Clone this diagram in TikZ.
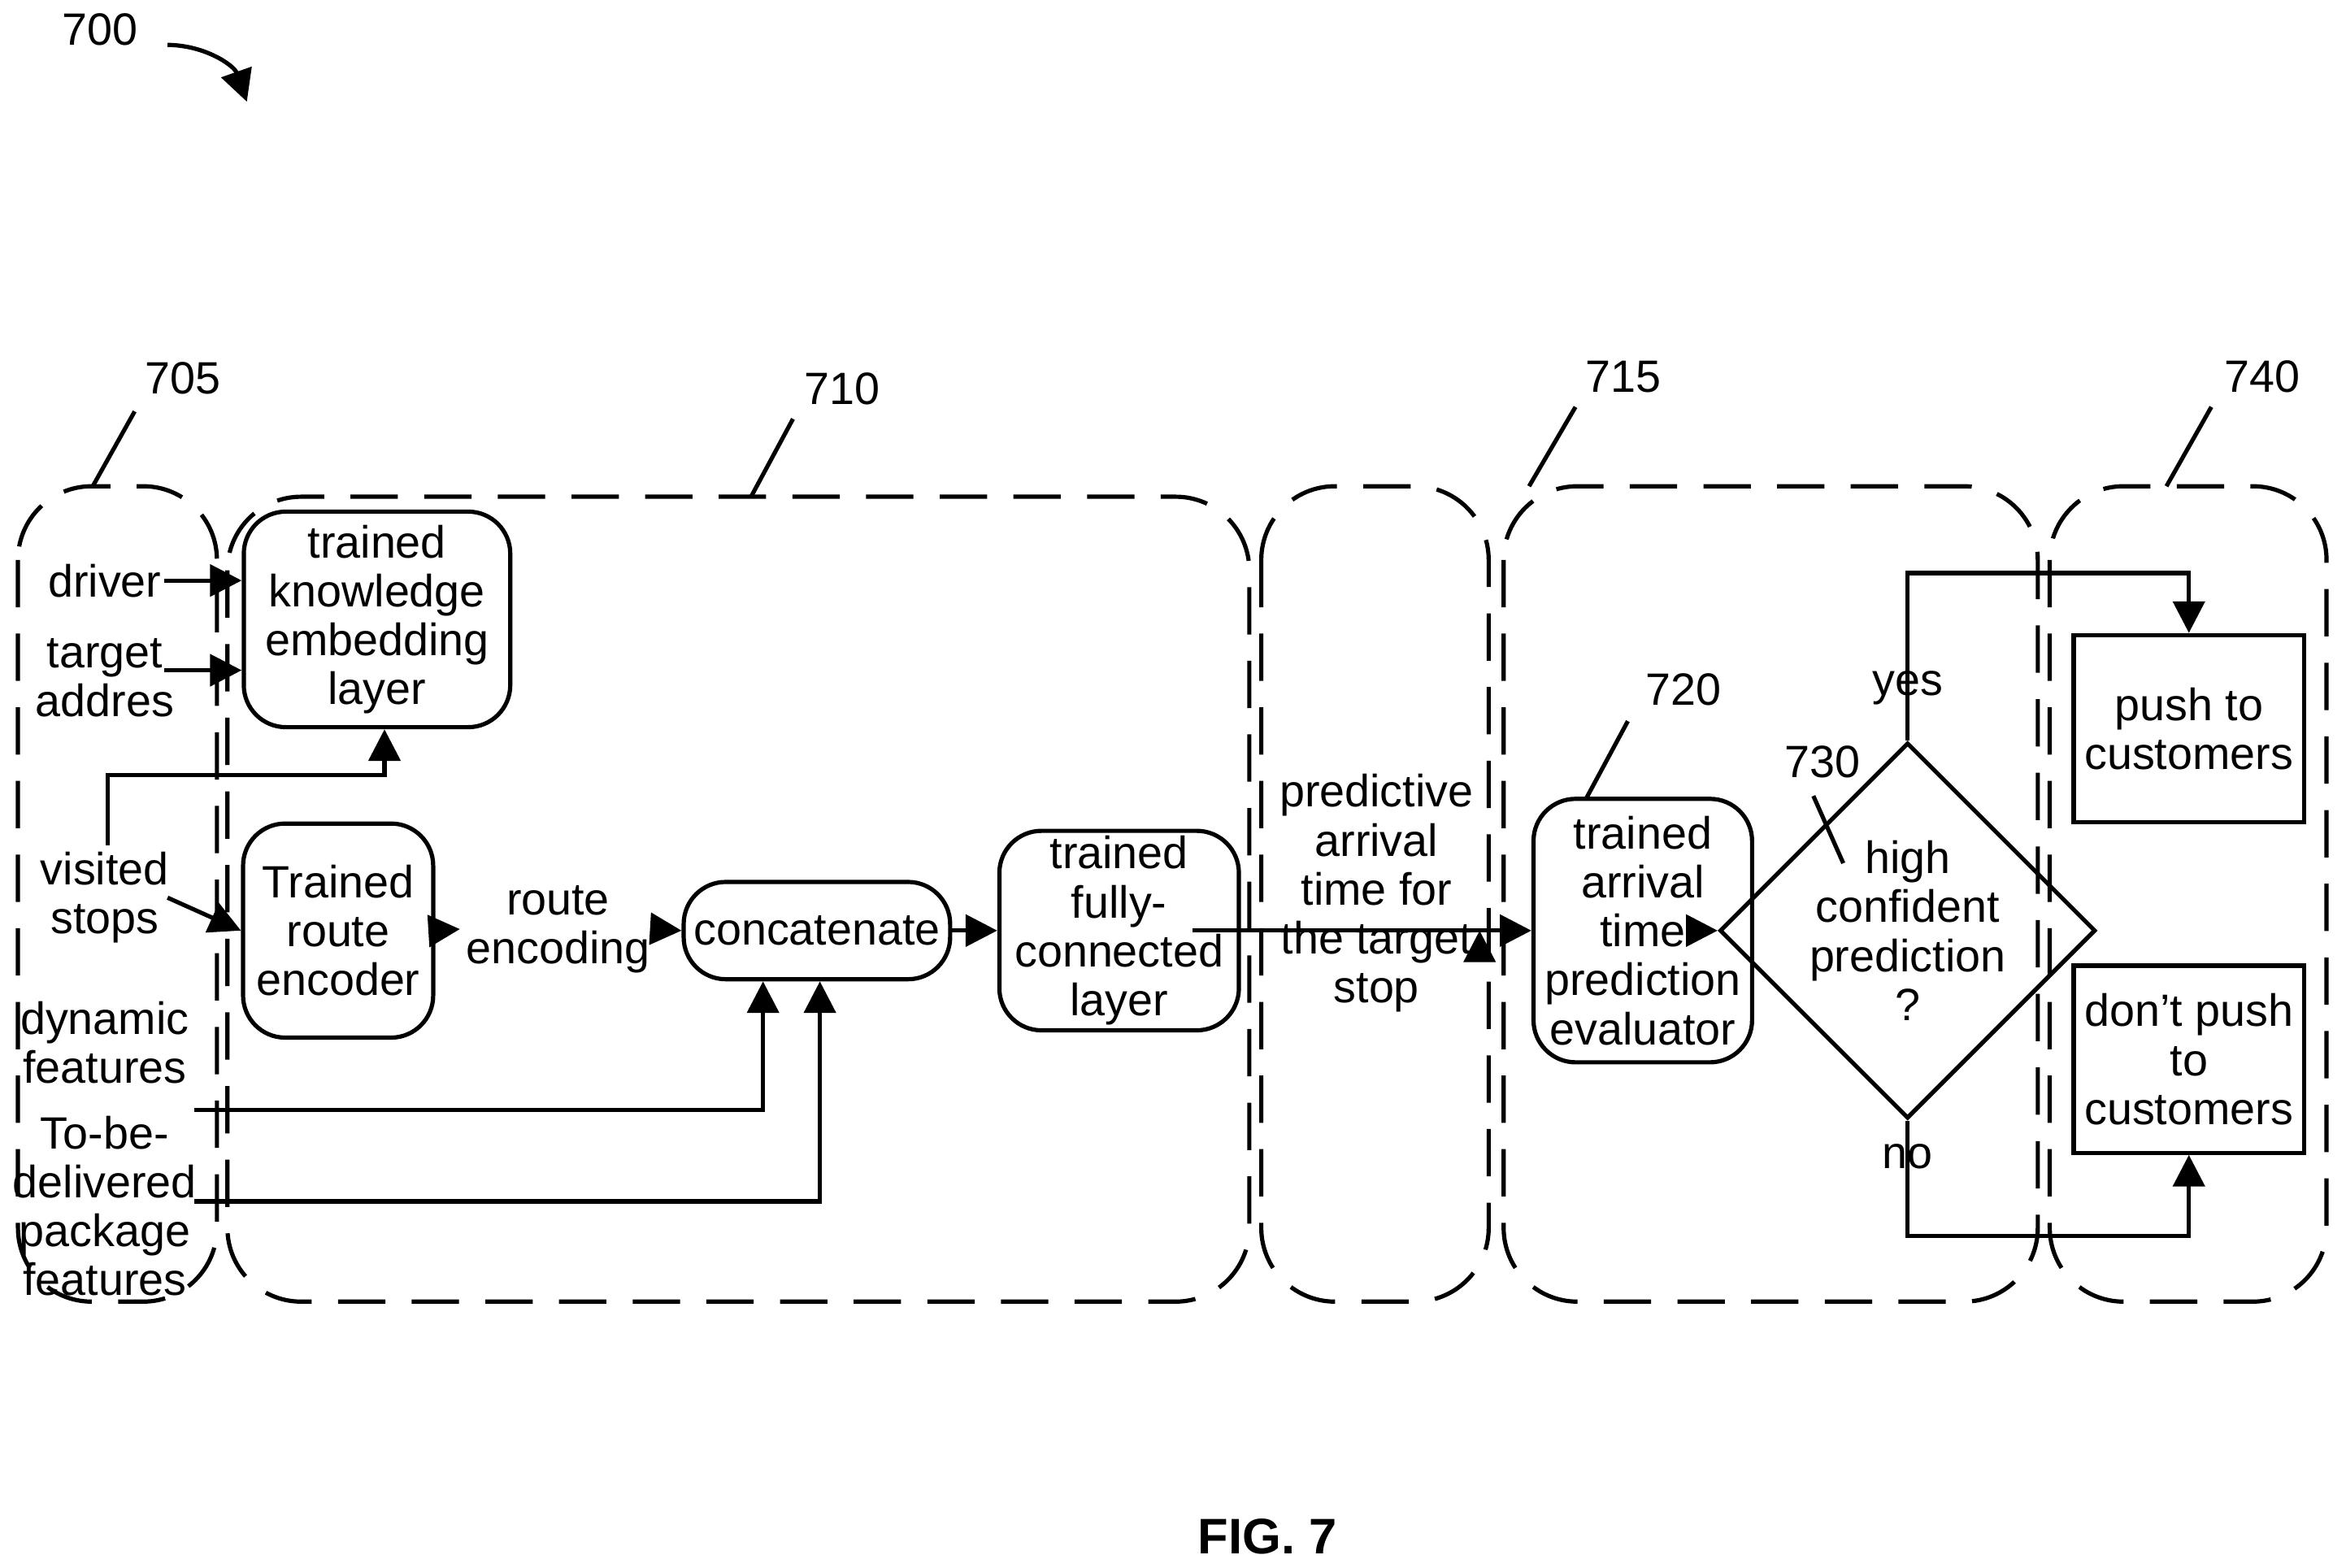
\documentclass[tikz,border=0pt]{standalone}
\usepackage{fontspec}
\setmainfont{Liberation Sans}
\usetikzlibrary{shapes.geometric,arrows.meta}
\tikzstyle{block}=[draw,thick,rounded corners=8pt,align=center,inner sep=1pt]
\tikzstyle{plain}=[draw,thick,align=center,inner sep=1pt]
\tikzstyle{txt}=[align=center,inner sep=1pt]
\tikzstyle{group}=[draw,thick,dashed,dash pattern=on 9pt off 5pt,rounded corners=14pt]
\tikzstyle{edge}=[draw,thick,-{Triangle[length=6pt,width=6pt]}]
\tikzstyle{lead}=[draw,thick]

\begin{document}
\begin{tikzpicture}[x=0.01cm,y=-0.01cm,font=\fontsize{8.6}{9.3}\selectfont]
\useasboundingbox (0,0) rectangle (1568,1048);

\node[txt] (n700) at (67,20) {700};
\coordinate (c700a) at (112,30);
\coordinate (c700b) at (165,68);
\draw[edge] (c700a) to[bend left=35] (c700b);

% dashed groups
\draw[group] (12,325) rectangle (145,870);
\draw[group] (152,332) rectangle (835,870);
\draw[group] (843,325) rectangle (995,870);
\draw[group] (1005,325) rectangle (1362,870);
\draw[group] (1370,325) rectangle (1555,870);

\node[txt] (n705) at (122,253) {705};
\node[txt] (n710) at (563,260) {710};
\node[txt] (n715) at (1085,252) {715};
\node[txt] (n740) at (1512,252) {740};
\coordinate (g705) at (62,325);
\coordinate (g710) at (502,332);
\coordinate (g715) at (1022,325);
\coordinate (g740) at (1448,325);
\draw[lead] (90,275) -- (g705);
\draw[lead] (530,280) -- (g710);
\draw[lead] (1053,272) -- (g715);
\draw[lead] (1478,272) -- (g740);

% inputs
\node[txt] (driver) at (70,388) {driver};
\node[txt] (target) at (70,453) {target\\addres};
\node[txt] (visited) at (70,600) {visited\\stops};
\node[txt] (dynamic) at (70,697) {dynamic\\features};
\node[txt] (package) at (70,806) {To-be-\\delivered\\package\\features};

% blocks
\node[block,minimum width=1.78cm,minimum height=1.44cm] (know) at (252,414) {trained\\knowledge\\embedding\\layer};
\node[block,minimum width=1.27cm,minimum height=1.43cm] (enc) at (226,622) {Trained\\route\\encoder};
\node[txt] (renc) at (373,621) {route\\encoding};
\node[block,minimum width=1.78cm,minimum height=0.65cm] (concat) at (546,622) {concatenate};
\node[block,minimum width=1.60cm,minimum height=1.28cm] (fc) at (748,622) {trained\\fully-\\connected\\layer};
\node[txt] (pred) at (920,597) {predictive\\arrival\\time for\\the target\\stop};
\node[block,minimum width=1.46cm,minimum height=1.76cm] (eval) at (1098,622) {trained\\arrival\\time\\prediction\\evaluator};
\node[diamond,draw,thick,align=center,inner sep=0pt,minimum width=1.60cm,minimum height=1.90cm] (conf) at (1275,622) {high\\confident\\prediction\\?};
\node[plain,minimum width=1.54cm,minimum height=1.25cm] (push) at (1463,487) {push to\\customers};
\node[plain,minimum width=1.54cm,minimum height=1.25cm] (nopush) at (1463,708) {don’t push\\to\\customers};
\node[txt] (yes) at (1275,460) {yes};
\node[txt] (no) at (1275,773) {no};

\node[txt] (n720) at (1125,461) {720};
\node[txt] (n730) at (1218,509) {730};
\draw[lead] (1088,482) -- (1060,534);
\draw[lead] (1212,532) -- (1232,577);

% connectors
\draw[edge] (110,388) -- (know.west |- 0,388);
\draw[edge] (110,448) -- (know.west |- 0,448);
\draw[edge] (112,600) -- (enc.west);
\draw[edge] (72,565) -- (72,518) -- (257,518) -- (know.south -| 257,0);
\draw[edge] (enc.east) -- (renc.west);
\draw[edge] (renc.east) -- (concat.west);
\draw[edge] (concat.east) -- (fc.west);
\draw[edge] (797,622) -- (pred.east |- 0,622) ++(0,0);
\draw[edge] (982,622) -- (eval.west);
\draw[edge] (1142,622) -- (conf.west);
\draw[edge] (conf.north) -- (1275,383) -- (1463,383) -- (push.north);
\draw[edge] (conf.south) -- (1275,826) -- (1463,826) -- (nopush.south);
\draw[edge] (130,742) -- (510,742) -- (concat.south -| 510,0);
\draw[edge] (130,803) -- (548,803) -- (concat.south -| 548,0);

\node[txt,font=\fontsize{9.5}{10}\selectfont\bfseries] (fig) at (847,1027) {FIG. 7};
\end{tikzpicture}
\end{document}
